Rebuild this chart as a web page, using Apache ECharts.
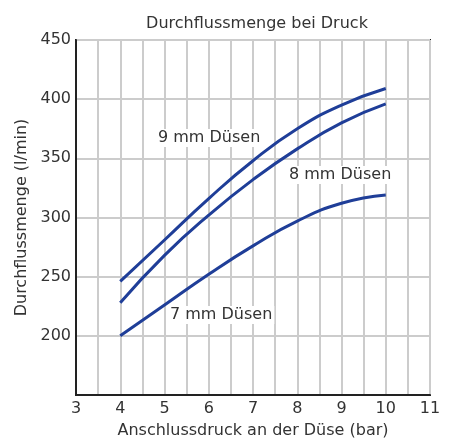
<!DOCTYPE html>
<html>
<head>
<meta charset="utf-8">
<script src="https://cdn.jsdelivr.net/npm/echarts@6/dist/echarts.min.js"></script>
<style>
  html, body { margin: 0; padding: 0; background: #fff; }
  #chart { width: 453px; height: 438px; }
</style>
</head>
<body>
<div id="chart"></div>
<script type="text/javascript">
// Druck in bar
var druck = [4, 5, 6, 7, 8, 9, 10];
// Durchflussmenge in l/min
var duese9 = [246, 281, 316, 348, 375, 395, 409];
var duese8 = [228, 268, 302, 332, 358, 380, 396];
var duese7 = [200, 226, 252, 276, 297, 312, 319];
var namen = ['9 mm Düsen', '8 mm Düsen', '7 mm Düsen'];

var font = 'DejaVu Sans';
var linie = '#1f3e98';

function paare(werte) {
  return druck.map(function (x, i) { return [x, werte[i]]; });
}

function beschriftung(text, x, y) {
  return {
    type: 'text', x: x, y: y, z: 10,
    style: {
      text: text, font: '16px "DejaVu Sans"', fill: '#333',
      verticalAlign: 'middle', backgroundColor: '#fff', padding: [1, 2]
    }
  };
}

var chart = echarts.init(document.getElementById('chart'));
chart.setOption({
  animation: false,
  title: {
    text: 'Durchflussmenge bei Druck',
    left: 252, top: 11, textAlign: 'center',
    textStyle: { fontFamily: font, fontSize: 16, fontWeight: 'normal', color: '#333' }
  },
  grid: {
    left: 76, top: 40, width: 354, height: 355,
    containLabel: false, outerBoundsMode: 'none',
    show: true, borderColor: '#222', borderWidth: 2
  },
  xAxis: {
    type: 'value', min: 3, max: 11, interval: 0.5,
    name: 'Anschlussdruck an der Düse (bar)',
    nameLocation: 'middle', nameGap: 28,
    nameTextStyle: { fontFamily: font, fontSize: 16, color: '#333' },
    axisLine: { lineStyle: { color: '#222', width: 2 } },
    axisTick: { show: false },
    axisLabel: {
      fontFamily: font, fontSize: 16, color: '#333', margin: 6,
      formatter: function (v) { return v % 1 === 0 ? String(v) : ''; }
    },
    splitLine: { lineStyle: { color: '#cccccc', width: 2 } }
  },
  yAxis: {
    type: 'value', min: 150, max: 450, interval: 50,
    name: 'Durchflussmenge (l/min)',
    nameLocation: 'middle', nameGap: 32,
    nameTextStyle: { fontFamily: font, fontSize: 16, color: '#333' },
    axisLine: { show: true, lineStyle: { color: '#222', width: 2 } },
    axisTick: { show: false },
    axisLabel: {
      fontFamily: font, fontSize: 16, color: '#333', margin: 5,
      padding: [3, 0, 0, 0],
      formatter: function (v) { return v === 150 ? '' : String(v); }
    },
    splitLine: { lineStyle: { color: '#cccccc', width: 2 } }
  },
  series: [
    { name: namen[0], type: 'line', data: paare(duese9) },
    { name: namen[1], type: 'line', data: paare(duese8) },
    { name: namen[2], type: 'line', data: paare(duese7) }
  ].map(function (s) {
    s.smooth = true;
    s.showSymbol = false;
    s.lineStyle = { color: linie, width: 3 };
    return s;
  }),
  graphic: [
    beschriftung(namen[0], 156, 138),
    beschriftung(namen[1], 287, 175),
    beschriftung(namen[2], 168, 315)
  ]
});
</script>
</body>
</html>
